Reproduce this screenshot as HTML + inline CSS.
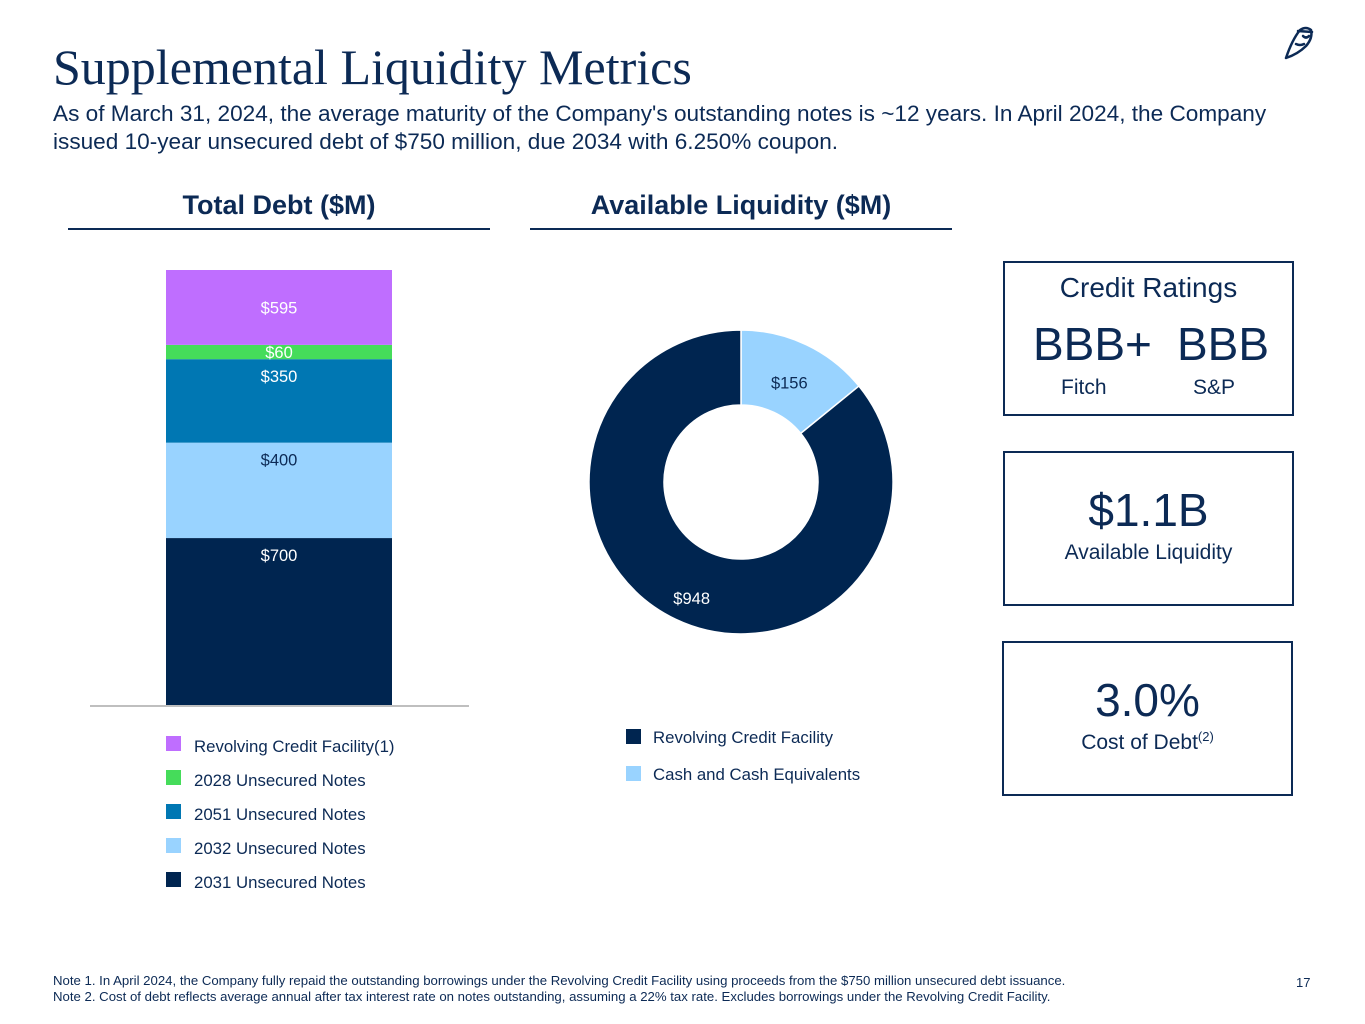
<!DOCTYPE html>
<html><head><meta charset="utf-8"><style>
body{margin:0;width:1365px;height:1024px;background:#fff;position:relative;overflow:hidden;font-family:"Liberation Sans",sans-serif;color:#0c2a55}
.a{position:absolute}
.box{position:absolute;border:2px solid #0c2a55;box-sizing:border-box;text-align:center}
.leg{position:absolute;font-size:16.8px;color:#0c2a55}
.sw{position:absolute;width:15px;height:15px}
</style></head><body>
<div class="a" style="left:53px;top:38px;font-family:'Liberation Serif',serif;font-size:50px;color:#0c2a55">Supplemental Liquidity Metrics</div>
<svg class="a" style="left:1278px;top:20px" width="40" height="42" viewBox="0 0 40 42"><g fill="none" stroke="#0c2a55" stroke-width="2.5" stroke-linecap="round"><path d="M8 38 Q14 20 22 10 Q28 6 33 10 Q35 18 28 26 Q20 34 8 38"/><path d="M20 11 L34 12"/><path d="M25 16 Q28 19 31 16"/><path d="M18 24 Q22 26 26 24"/></g></svg>
<div class="a" style="left:53px;top:100px;font-size:22.6px;line-height:28px;width:1300px;white-space:nowrap;color:#0c2a55">As of March 31, 2024, the average maturity of the Company's outstanding notes is ~12 years. In April 2024, the Company<br>issued 10-year unsecured debt of $750 million, due 2034 with 6.250% coupon.</div>
<div class="a" style="left:68px;top:190px;width:422px;text-align:center;font-weight:bold;font-size:27px">Total Debt ($M)</div>
<div class="a" style="left:68px;top:228px;width:422px;height:2px;background:#0c2a55"></div>
<div class="a" style="left:530px;top:190px;width:422px;text-align:center;font-weight:bold;font-size:27px">Available Liquidity ($M)</div>
<div class="a" style="left:530px;top:228px;width:422px;height:2px;background:#0c2a55"></div>

<svg class="a" id="charts" style="left:0;top:0" width="1000" height="1024"></svg>

<div class="sw" style="left:166px;top:736px;background:#bf6eff"></div><div class="leg" style="left:194px;top:737px">Revolving Credit Facility(1)</div>
<div class="sw" style="left:166px;top:770px;background:#45dc5a"></div><div class="leg" style="left:194px;top:771px">2028 Unsecured Notes</div>
<div class="sw" style="left:166px;top:804px;background:#0077b3"></div><div class="leg" style="left:194px;top:805px">2051 Unsecured Notes</div>
<div class="sw" style="left:166px;top:838px;background:#99d3ff"></div><div class="leg" style="left:194px;top:839px">2032 Unsecured Notes</div>
<div class="sw" style="left:166px;top:872px;background:#002550"></div><div class="leg" style="left:194px;top:873px">2031 Unsecured Notes</div>

<div class="sw" style="left:626px;top:729px;background:#002550"></div><div class="leg" style="left:653px;top:728px">Revolving Credit Facility</div>
<div class="sw" style="left:626px;top:766px;background:#99d3ff"></div><div class="leg" style="left:653px;top:765px">Cash and Cash Equivalents</div>

<div class="box" style="left:1003px;top:261px;width:291px;height:155px">
<div style="font-size:28px;margin-top:9px">Credit Ratings</div>
<div style="position:absolute;left:28px;top:54px;font-size:46px">BBB+</div>
<div style="position:absolute;left:172px;top:54px;font-size:46px">BBB</div>
<div style="position:absolute;left:56px;top:113px;font-size:21px">Fitch</div>
<div style="position:absolute;left:188px;top:113px;font-size:21px">S&amp;P</div>
</div>
<div class="box" style="left:1003px;top:451px;width:291px;height:155px">
<div style="font-size:46px;margin-top:30px">$1.1B</div>
<div style="font-size:21px;margin-top:4px">Available Liquidity</div>
</div>
<div class="box" style="left:1002px;top:641px;width:291px;height:155px">
<div style="font-size:46px;margin-top:30px">3.0%</div>
<div style="font-size:21px;margin-top:2px">Cost of Debt<sup style="font-size:13px">(2)</sup></div>
</div>

<div class="a" style="left:53px;top:973px;font-size:13.2px;line-height:16px;white-space:nowrap;color:#0c2a55">Note 1. In April 2024, the Company fully repaid the outstanding borrowings under the Revolving Credit Facility using proceeds from the $750 million unsecured debt issuance.<br>Note 2. Cost of debt reflects average annual after tax interest rate on notes outstanding, assuming a 22% tax rate. Excludes borrowings under the Revolving Credit Facility.</div>
<div class="a" style="left:1296px;top:975px;font-size:13px">17</div>

<script>
const debtCategories=["2031 Unsecured Notes","2032 Unsecured Notes","2051 Unsecured Notes","2028 Unsecured Notes","Revolving Credit Facility"];
const debtValues=[700,400,350,60,595];
const debtAxisMax=[1824];
const debtColors=["#002550","#99d3ff","#0077b3","#45dc5a","#bf6eff"];
const debtLabelColors=["#fff","#0c2a55","#fff","#fff","#fff"];
const liqCategories=["Cash and Cash Equivalents","Revolving Credit Facility"];
const liqValues=[156,948];
const liqColors=["#99d3ff","#002550"];
const liqLabelColors=["#0c2a55","#fff"];

const NS="http://www.w3.org/2000/svg";
const svg=document.getElementById('charts');
function mk(t,a){const e=document.createElementNS(NS,t);for(const k in a)e.setAttribute(k,a[k]);svg.appendChild(e);return e;}
// bar (axis max clips the top segment, as in the source)
const base=705,top0=270,bx=166,bw=226;
const yScale=v=>v/debtAxisMax[0]*(base-top0);
let y=base;
debtValues.forEach((v,i)=>{
  let h=yScale(v);
  if(y-h<top0)h=y-top0;
  if(h<=0)return;
  const r=mk('rect',{x:bx,y:y-h,width:bw,height:h,fill:debtColors[i]});
  
  
  let ly=(h<20||i==debtValues.length-1)?y-h/2+6:y-h+23;
  const t=mk('text',{x:bx+bw/2,y:ly,'text-anchor':'middle','font-size':16.5,fill:debtLabelColors[i],'font-family':'Liberation Sans'});
  t.textContent='$'+v;
  
  
  y-=h;
});
const ax=mk('line',{x1:90,x2:469,y1:706,y2:706,stroke:'#aaa','stroke-width':1.5});


// donut
const cx=741,cy=482,R=152,r0=77;
const lt=liqValues.reduce((a,b)=>a+b,0);
let a0=0;
liqValues.forEach((v,i)=>{
  const a1=a0+v/lt*2*Math.PI;
  const p=(r,a)=>[cx+r*Math.sin(a),cy-r*Math.cos(a)];
  const [x1,y1]=p(R,a0),[x2,y2]=p(R,a1),[x3,y3]=p(r0,a1),[x4,y4]=p(r0,a0);
  const lg=(a1-a0)>Math.PI?1:0;
  const s=mk('path',{d:`M${x1},${y1}A${R},${R} 0 ${lg} 1 ${x2},${y2}L${x3},${y3}A${r0},${r0} 0 ${lg} 0 ${x4},${y4}Z`,fill:liqColors[i],stroke:'#fff','stroke-width':1.5});
  
  
  const am=(a0+a1)/2;const [lx,ly]=p((R+r0)/2+(i==1?12:-2),am);
  const t=mk('text',{x:lx+(i==1?5:0),y:ly+8,'text-anchor':'middle','font-size':16.5,fill:liqLabelColors[i],'font-family':'Liberation Sans'});
  t.textContent='$'+v;
  
  
  a0=a1;
});
</script>
</body></html>
